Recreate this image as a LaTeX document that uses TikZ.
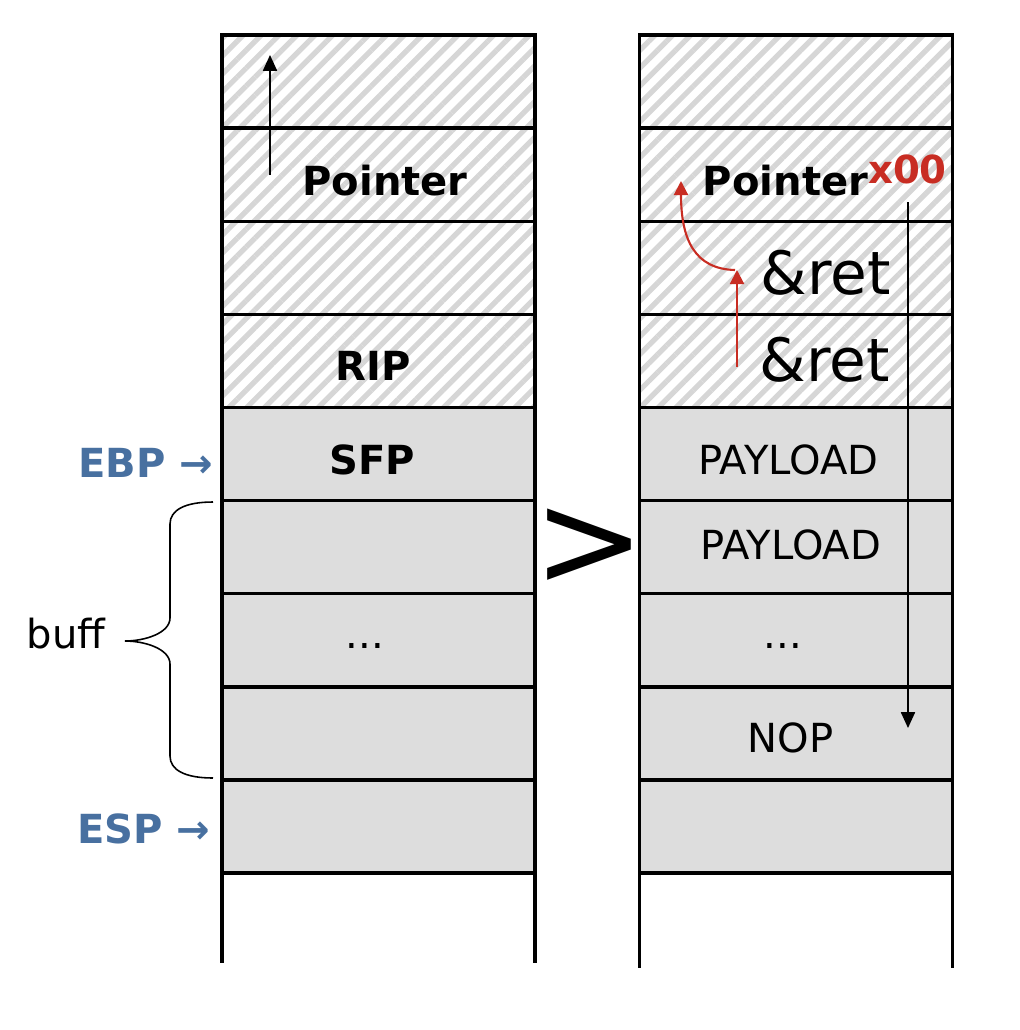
\documentclass[tikz,border=0pt]{standalone}
\usepackage{fontspec}
\setmainfont{DejaVu Sans}
\usetikzlibrary{arrows.meta,patterns.meta}
\definecolor{cellgray}{RGB}{221,221,221}
\definecolor{regblue}{RGB}{72,112,160}
\definecolor{hackred}{RGB}{200,45,35}

\begin{document}
\begin{tikzpicture}[
			every node/.style={inner sep=0pt, outer sep=0pt, font=\fontsize{11.4}{13}\selectfont},
			slot/.style={draw, line width=1pt, minimum width=3.13cm, minimum height=0.931cm},
			upper/.style={slot, pattern={Lines[angle=45, distance=3.6pt, line width=1.5pt]}, pattern color=gray!32},
			lower/.style={slot, fill=cellgray},
			bold/.style={font=\fontsize{11.4}{13}\selectfont\bfseries},
			reg/.style={font=\fontsize{11.4}{13}\selectfont\bfseries, text=regblue},
			flow/.style={-{Triangle[length=4.5pt, width=4pt]}, line width=0.45pt},
			hijack/.style={-{Triangle[length=4pt, width=4pt]}, line width=0.6pt, draw=hackred}]
			
			\useasboundingbox (0,0) rectangle (10.2,-10.3);
			
			% Define the cells of the stack before the overflow
			\node[upper] (L1) at (3.785,-0.816) {};
			\node[upper] (L2) at (3.785,-1.747) {};
			\node[upper] (L3) at (3.785,-2.678) {};
			\node[upper] (L4) at (3.785,-3.609) {};
			\node[lower] (L5) at (3.785,-4.540) {};
			\node[lower] (L6) at (3.785,-5.471) {};
			\node[lower] (L7) at (3.785,-6.402) {};
			\node[lower] (L8) at (3.785,-7.333) {};
			\node[lower] (L9) at (3.785,-8.264) {};
			
			% Define the cells of the stack after the overflow
			\node[upper] (R1) at (7.96,-0.816) {};
			\node[upper] (R2) at (7.96,-1.747) {};
			\node[upper] (R3) at (7.96,-2.678) {};
			\node[upper] (R4) at (7.96,-3.609) {};
			\node[lower] (R5) at (7.96,-4.540) {};
			\node[lower] (R6) at (7.96,-5.471) {};
			\node[lower] (R7) at (7.96,-6.402) {};
			\node[lower] (R8) at (7.96,-7.333) {};
			\node[lower] (R9) at (7.96,-8.264) {};
			
			% Open ends below the stacks
			\draw[line width=1pt] (L9.south west) -- ++(0,-0.90);
			\draw[line width=1pt] (L9.south east) -- ++(0,-0.90);
			\draw[line width=1pt] (R9.south west) -- ++(0,-0.95);
			\draw[line width=1pt] (R9.south east) -- ++(0,-0.95);
			
			% Texts of the first stack
			\node[bold] (ptrL) at (3.85,-1.81) {Pointer};
			\node[bold] (ripL) at (3.735,-3.66) {RIP};
			\node[bold] (sfpL) at (3.72,-4.60) {SFP};
			\node (dotsL) at (3.65,-6.46) {...};
			
			% Texts of the second stack
			\node[bold] (ptrR) at (7.855,-1.81) {Pointer};
			\node[anchor=base west, font=\fontsize{11}{13}\selectfont\bfseries, text=hackred] (nul) at ([yshift=0.12cm]ptrR.base east) {x00};
			\node[font=\fontsize{17}{20}\selectfont] (ret1) at (8.26,-2.73) {\&ret};
			\node[font=\fontsize{17}{20}\selectfont] (ret2) at (8.25,-3.60) {\&ret};
			\node (pay1) at (7.885,-4.60) {PAYLOAD};
			\node (pay2) at (7.91,-5.45) {PAYLOAD};
			\node (dotsR) at (7.83,-6.46) {...};
			\node (nop) at (7.905,-7.38) {NOP};
			
			% Registers, buffer and the sign between the stacks
			\node[reg] (ebp) at (1.46,-4.63) {EBP →};
			\node[reg] (esp) at (1.44,-8.29) {ESP →};
			\node[font=\fontsize{38}{40}\selectfont] (gt) at (5.89,-5.48) {>};
			
			\coordinate (braceA) at (2.13,-7.78);
			\coordinate (braceB) at (2.13,-5.02);
			\draw[line width=0.45pt] (braceB) .. controls (1.85,-5.02) and (1.70,-5.10) .. (1.70,-5.24)
				-- (1.70,-6.18) .. controls (1.70,-6.33) and (1.45,-6.41) .. (1.25,-6.41)
				.. controls (1.45,-6.41) and (1.70,-6.49) .. (1.70,-6.64)
				-- (1.70,-7.56) .. controls (1.70,-7.70) and (1.85,-7.78) .. (braceA);
			\node[anchor=east] (buff) at (1.05,-6.34) {buff};
			
			% Arrows
			\coordinate (upA) at (2.70,-1.75);
			\coordinate (upB) at (2.70,-0.55);
			\coordinate (dnA) at (9.08,-2.02);
			\coordinate (dnB) at (9.08,-7.28);
			\coordinate (jmpA) at (7.37,-3.67);
			\coordinate (jmpB) at (7.37,-2.70);
			\coordinate (jmpC) at (6.81,-1.81);
			\draw[flow] (upA) -- (upB);
			\draw[flow] (dnA) -- (dnB);
			\draw[hijack] (jmpA) -- (jmpB);
			\draw[hijack] ([xshift=-0.02cm]jmpB) .. controls (6.95,-2.69) and (6.81,-2.40) .. (jmpC);
\end{tikzpicture}
\end{document}
